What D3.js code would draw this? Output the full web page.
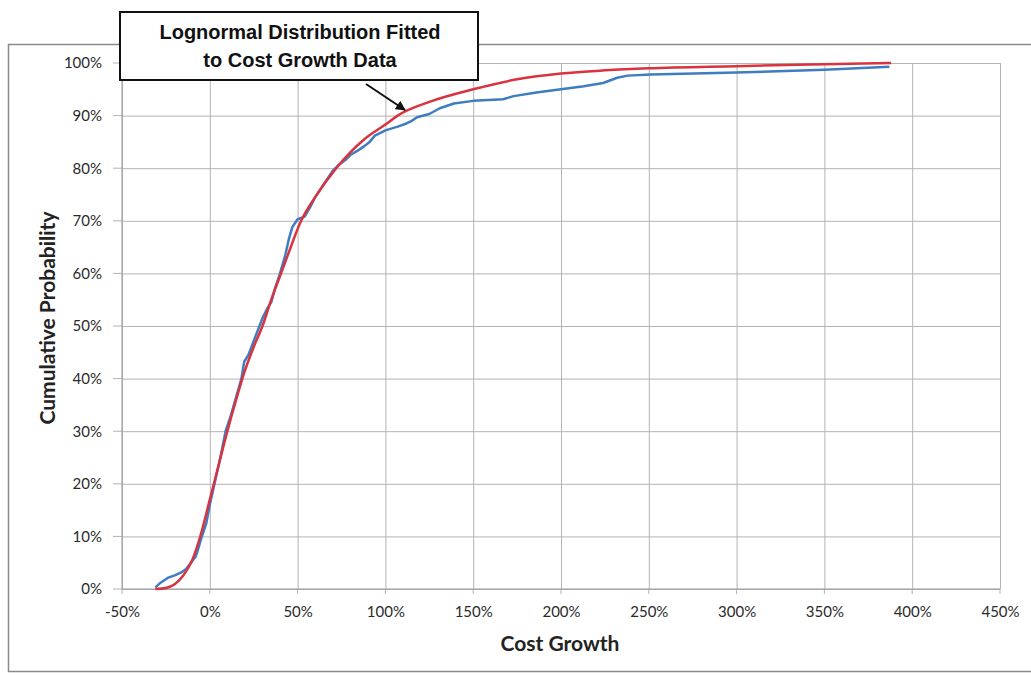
<!DOCTYPE html>
<html>
<head>
<meta charset="utf-8">
<script src="https://cdn.jsdelivr.net/npm/d3@7"></script>
<style>
  body { margin: 0; background: #fff; }
  svg { display: block; }
</style>
</head>
<body>
<div id="chart-area"></div>
<script>
// tick values
const xTicks = [-50, 0, 50, 100, 150, 200, 250, 300, 350, 400, 450];
const yTicks = [0, 10, 20, 30, 40, 50, 60, 70, 80, 90, 100];

// empirical cost growth data (blue)
const dataGrowth = [-31, -28, -24, -20, -16.5, -13.5, -10, -8, -7, -5, -2, 0, 3, 6, 9, 12, 15, 18, 19.6, 22, 26, 30, 33, 35, 37, 40, 43, 45, 47, 50, 54, 57, 60, 64, 67, 70, 73, 77, 80, 84, 88, 91, 94, 100, 107, 112, 115, 118, 125, 131, 139, 150, 167, 173, 186, 200, 213, 224, 232, 238, 251, 300, 350, 387];
const dataProb = [0.3, 1.2, 2.1, 2.6, 3.1, 3.8, 5.3, 6.2, 7.2, 9.5, 12.5, 16, 20.5, 25, 30, 33, 36.5, 40, 43.2, 44.5, 48, 51.5, 53.5, 54.5, 57, 60, 63.5, 66.5, 68.8, 70.3, 70.8, 72.5, 74.5, 76.5, 78, 79.5, 80.5, 81.5, 82.5, 83.3, 84.2, 85, 86.2, 87.2, 87.9, 88.5, 89, 89.7, 90.3, 91.4, 92.3, 92.8, 93.1, 93.7, 94.4, 95, 95.6, 96.2, 97.2, 97.6, 97.8, 98.2, 98.7, 99.3];

// fitted lognormal (red)
const fitGrowth = [-31, -25, -20, -15, -10, -5, 0, 5, 10, 15, 20, 25, 30, 35, 40, 45, 52, 60, 72, 80, 88, 100, 107, 125, 150, 175, 200, 225, 250, 300, 350, 388];
const fitProb = [0, 0.2, 0.9, 2.6, 5.5, 10.5, 17, 23.5, 30, 36, 41.5, 46, 50, 55, 59.5, 64, 70, 74.5, 80, 83, 85.5, 88.3, 90, 92.6, 95, 96.9, 98, 98.6, 99, 99.4, 99.75, 100];

const W = 1031, H = 675;
const margin = { top: 63, right: 31, bottom: 86, left: 122 };
const width = W - margin.left - margin.right;
const height = H - margin.top - margin.bottom;

const x = d3.scaleLinear().domain([-50, 450]).range([0, width]);
const y = d3.scaleLinear().domain([0, 100]).range([height, 0]);

const svg = d3.select("#chart-area")
  .append("svg")
    .attr("width", W)
    .attr("height", H);

// outer frame
svg.append("rect")
  .attr("x", 8.5).attr("y", 44.5)
  .attr("width", 1040).attr("height", 627)
  .attr("fill", "none")
  .attr("stroke", "#8a8a8a")
  .attr("stroke-width", 1.5);

const chart = svg.append("g")
  .attr("transform", "translate(" + margin.left + "," + margin.top + ")");

const xAxis = d3.axisBottom(x)
  .tickValues(xTicks)
  .tickSize(-height)
  .tickPadding(17)
  .tickFormat(d => d + "%");

const yAxis = d3.axisLeft(y)
  .tickValues(yTicks)
  .tickSize(-width)
  .tickPadding(20)
  .tickFormat(d => d + "%");

const gx = chart.append("g")
  .attr("class", "x-axis")
  .attr("transform", "translate(0," + height + ")")
  .call(xAxis);

const gy = chart.append("g")
  .attr("class", "y-axis")
  .call(yAxis);

[gx, gy].forEach(g => {
  g.select(".domain").remove();
  g.selectAll("line").attr("stroke", "#b3b3b3").attr("stroke-width", 1);
  g.selectAll("text")
    .attr("fill", "#2a2a2a")
    .style("font-family", "Lato, 'Open Sans', sans-serif")
    .style("font-size", "15px");
});

// small outside tick marks
chart.append("g").selectAll("line").data(yTicks).join("line")
  .attr("x1", -9).attr("x2", 0)
  .attr("y1", d => y(d)).attr("y2", d => y(d))
  .attr("stroke", "#b3b3b3");
chart.append("g").selectAll("line").data(xTicks).join("line")
  .attr("x1", d => x(d)).attr("x2", d => x(d))
  .attr("y1", height).attr("y2", height + 5)
  .attr("stroke", "#b3b3b3");

// axis lines
chart.append("line")
  .attr("x1", 0).attr("x2", width)
  .attr("y1", height).attr("y2", height)
  .attr("stroke", "#999");
chart.append("line")
  .attr("x1", 0).attr("x2", 0)
  .attr("y1", 0).attr("y2", height)
  .attr("stroke", "#999");

const line = d3.line()
  .x(d => x(d[0]))
  .y(d => y(d[1]));

chart.append("path")
  .datum(d3.zip(dataGrowth, dataProb))
  .attr("fill", "none")
  .attr("stroke", "#3f7cc2")
  .attr("stroke-width", 2.5)
  .attr("stroke-linejoin", "round")
  .attr("d", line.curve(d3.curveLinear));

chart.append("path")
  .datum(d3.zip(fitGrowth, fitProb))
  .attr("fill", "none")
  .attr("stroke", "#d8333f")
  .attr("stroke-width", 2.5)
  .attr("d", line.curve(d3.curveMonotoneX));

// axis titles
svg.append("text")
  .attr("x", 560).attr("y", 651)
  .attr("text-anchor", "middle")
  .style("font-family", "Lato, 'Open Sans', sans-serif")
  .style("font-weight", "bold")
  .style("font-size", "21px")
  .attr("fill", "#222")
  .text("Cost Growth");

svg.append("text")
  .attr("transform", "translate(55,318) rotate(-90)")
  .attr("text-anchor", "middle")
  .style("font-family", "Lato, 'Open Sans', sans-serif")
  .style("font-weight", "bold")
  .style("font-size", "21px")
  .attr("fill", "#222")
  .text("Cumulative Probability");

// annotation box and arrow
svg.append("defs").append("marker")
  .attr("id", "arrow")
  .attr("viewBox", "0 0 10 10")
  .attr("refX", 9).attr("refY", 5)
  .attr("markerWidth", 5).attr("markerHeight", 5)
  .attr("orient", "auto")
  .append("path")
  .attr("d", "M0,0L10,5L0,10z")
  .attr("fill", "#111");

svg.append("line")
  .attr("x1", 366).attr("y1", 84)
  .attr("x2", 405).attr("y2", 110)
  .attr("stroke", "#111")
  .attr("stroke-width", 2)
  .attr("marker-end", "url(#arrow)");

svg.append("rect")
  .attr("x", 120).attr("y", 12)
  .attr("width", 358).attr("height", 68)
  .attr("fill", "#fff")
  .attr("stroke", "#111")
  .attr("stroke-width", 2);

const note = svg.append("text")
  .attr("text-anchor", "middle")
  .style("font-family", "'Liberation Sans', Arial, sans-serif")
  .style("font-weight", "bold")
  .style("font-size", "20px")
  .attr("fill", "#111");
note.append("tspan").attr("x", 300).attr("y", 39).text("Lognormal Distribution Fitted");
note.append("tspan").attr("x", 300).attr("y", 67).text("to Cost Growth Data");
</script>
</body>
</html>
